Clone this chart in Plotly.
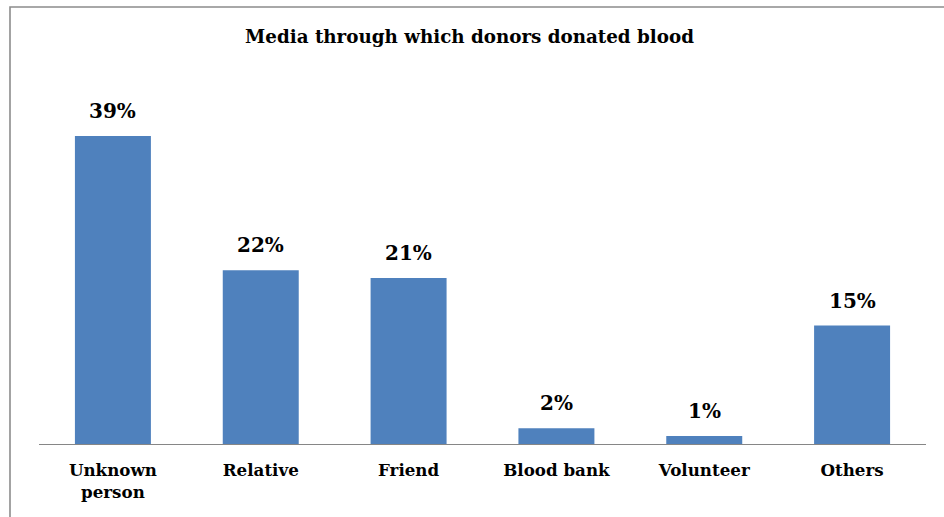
import plotly.graph_objects as go

categories = ["Unknown<br>person", "Relative", "Friend", "Blood bank", "Volunteer", "Others"]
values = [39, 22, 21, 2, 1, 15]
labels = [f"{v}%" for v in values]

W, H = 944, 517
ML, MR, MT, MB = 39, 18, 128, 73
PW = W - ML - MR
PH = H - MT - MB
SERIF = "DejaVu Serif"

fig = go.Figure()
fig.add_trace(go.Bar(
    x=categories, y=values,
    marker=dict(color="#4F81BD", line=dict(width=0)),
    hoverinfo="skip",
))

for c, v, t in zip(categories, values, labels):
    fig.add_annotation(x=c, y=v, text=f"<b>{t}</b>", showarrow=False, xref="x", yref="y",
                       yanchor="bottom", yshift=11,
                       font=dict(family=SERIF, size=20, color="black"))

# outer frame (extends beyond the right and bottom edges)
fig.add_shape(type="rect", xref="paper", yref="paper",
              x0=(10 - ML) / PW, x1=(W + 20 - ML) / PW,
              y0=-(H + 20 - MT - PH) / PH, y1=(H - 7 - MB) / PH,
              line=dict(color="#8C8C8C", width=1.6), fillcolor="rgba(0,0,0,0)", layer="below")

fig.update_layout(
    width=W, height=H,
    margin=dict(l=ML, r=MR, t=MT, b=MB, pad=0),
    paper_bgcolor="white", plot_bgcolor="white",
    showlegend=False,
    bargap=0.486,
    title=dict(text="<b>Media through which donors donated blood</b>",
               x=469.5 / W, xanchor="center", y=1 - 37 / H, yanchor="middle",
               font=dict(family=SERIF, size=18.3, color="black")),
    xaxis=dict(showline=True, linecolor="#868686", linewidth=1.4, ticks="",
               showgrid=False, zeroline=False, ticklabelstandoff=11, automargin=False,
               tickvals=categories, ticktext=[f"<b>{c}</b>" for c in categories],
               tickfont=dict(family=SERIF, size=16.7, color="black")),
    yaxis=dict(range=[0, 40], visible=False, showgrid=False, zeroline=False),
)

fig.write_html("out.html")
